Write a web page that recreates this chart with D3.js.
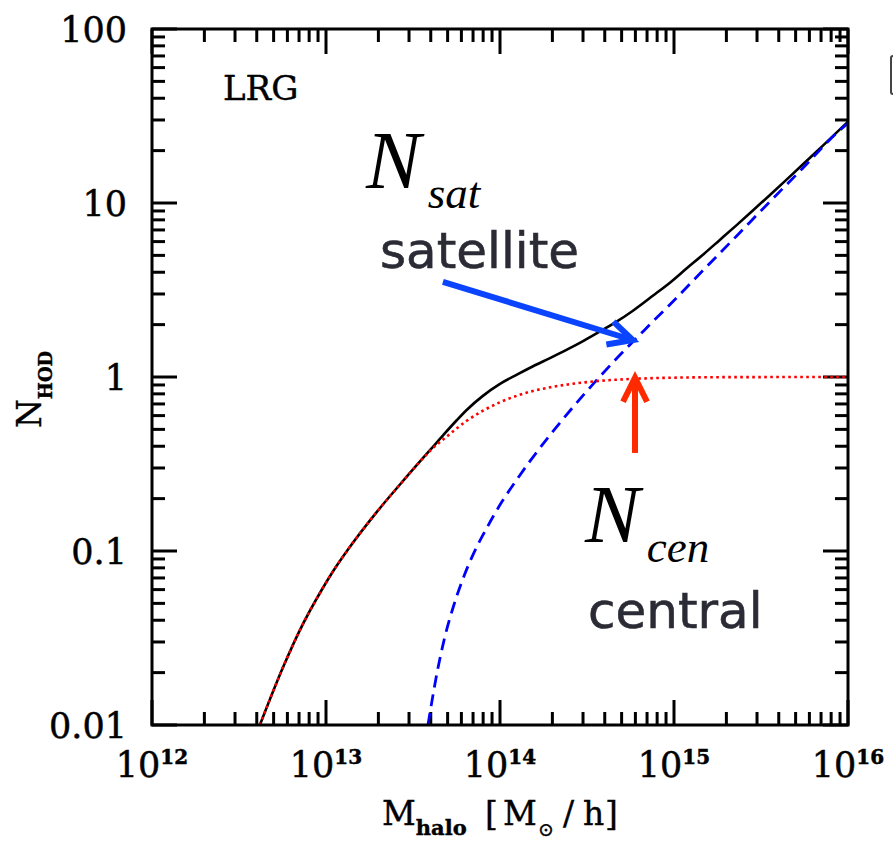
<!DOCTYPE html>
<html>
<head>
<meta charset="utf-8">
<script src="https://cdn.jsdelivr.net/npm/d3@7"></script>
<style>
  html, body { margin: 0; padding: 0; background: #fff; overflow: hidden; }
  svg { display: block; }
</style>
</head>
<body>
<svg id="chart" width="893" height="841"></svg>
<script>
// Halo occupation: total, central and satellite galaxies vs halo mass
const massTotal = [4.169e12, 5.623e12, 7.079e12, 9.333e12, 1.096e13, 1.380e13, 1.950e13, 2.692e13, 3.311e13,
  3.981e13, 4.677e13, 5.623e13, 6.457e13, 7.943e13, 1.0e14, 1.259e14, 1.549e14, 1.950e14, 2.455e14, 3.020e14,
  3.715e14, 4.677e14, 5.754e14, 7.586e14, 9.550e14, 1.175e15, 1.479e15, 1.820e15, 2.291e15, 2.818e15,
  3.548e15, 4.467e15, 5.495e15, 6.918e15, 8.710e15, 1.0e16];
const nTotal = [0.0100, 0.0211, 0.0351, 0.0585, 0.0762, 0.1064, 0.1667, 0.2443, 0.3105,
  0.382, 0.459, 0.5623, 0.6486, 0.7762, 0.912, 1.035, 1.153, 1.288, 1.445, 1.614,
  1.816, 2.080, 2.388, 2.938, 3.508, 4.188, 5.082, 6.095, 7.464, 8.995,
  11.09, 13.71, 16.63, 20.65, 25.70, 29.38];

const massCentral = [4.169e12, 5.623e12, 7.079e12, 9.333e12, 1.096e13, 1.380e13, 1.950e13, 2.692e13, 3.311e13,
  3.981e13, 5.012e13, 6.457e13, 7.943e13, 1.0e14, 1.259e14, 1.549e14, 1.950e14, 2.455e14, 3.020e14, 3.715e14,
  4.677e14, 5.754e14, 7.586e14, 1.0e15, 2.0e15, 1.0e16];
const nCentral = [0.0100, 0.0211, 0.0351, 0.0585, 0.0762, 0.1064, 0.1667, 0.2443, 0.3105,
  0.378, 0.460, 0.561, 0.638, 0.716, 0.782, 0.832, 0.873, 0.906, 0.930, 0.950,
  0.965, 0.975, 0.985, 0.991, 0.998, 1.0];

const massSatellite = [3.855e13, 4.365e13, 4.786e13, 5.370e13, 6.166e13, 6.918e13, 8.511e13, 1.023e14, 1.259e14,
  1.479e14, 1.950e14, 3.020e14, 4.677e14, 7.244e14, 9.550e14, 1.479e15, 2.291e15, 3.548e15, 5.495e15,
  8.710e15, 1.0e16];
const nSatellite = [0.0100, 0.0204, 0.0312, 0.0472, 0.0705, 0.0929, 0.139, 0.191, 0.260,
  0.326, 0.467, 0.789, 1.276, 1.995, 2.63, 4.13, 6.47, 10.16, 15.85,
  25.5, 28.8];

const xTicks = [1e12, 1e13, 1e14, 1e15, 1e16];
const xTickExponents = ["12", "13", "14", "15", "16"];
const yTicks = [0.01, 0.1, 1, 10, 100];
const yTickLabels = ["0.01", "0.1", "1", "10", "100"];

const svg = d3.select("#chart");
const plotLeft = 152, plotRight = 848, plotTop = 29, plotBottom = 725;
const majorLen = 25, minorLen = 13;

const x = d3.scaleLog().domain([1e12, 1e16]).range([plotLeft, plotRight]);
const y = d3.scaleLog().domain([0.01, 100]).range([plotBottom, plotTop]);

svg.append("rect").attr("width", 893).attr("height", 841).attr("fill", "#fff");

svg.append("defs").append("clipPath").attr("id", "plot-clip")
  .append("rect").attr("x", plotLeft).attr("y", plotTop)
  .attr("width", plotRight - plotLeft).attr("height", plotBottom - plotTop);

// minor tick positions (2..9 within each decade)
function minorTicks(decades) {
  const out = [];
  decades.forEach(d => { for (let k = 2; k <= 9; k++) out.push(k * d); });
  return out;
}
const xMinor = minorTicks([1e12, 1e13, 1e14, 1e15]);
const yMinor = minorTicks([0.01, 0.1, 1, 10]);

// inward ticks on all four sides
const ticks = svg.append("g").attr("stroke", "#000").attr("stroke-width", 3);
[[xTicks, majorLen], [xMinor, minorLen]].forEach(([vals, len]) => {
  ticks.selectAll(null).data(vals).join("line")
    .attr("x1", d => x(d)).attr("x2", d => x(d))
    .attr("y1", plotBottom).attr("y2", plotBottom - len);
  ticks.selectAll(null).data(vals).join("line")
    .attr("x1", d => x(d)).attr("x2", d => x(d))
    .attr("y1", plotTop).attr("y2", plotTop + len);
});
[[yTicks, majorLen], [yMinor, minorLen]].forEach(([vals, len]) => {
  ticks.selectAll(null).data(vals).join("line")
    .attr("y1", d => y(d)).attr("y2", d => y(d))
    .attr("x1", plotLeft).attr("x2", plotLeft + len);
  ticks.selectAll(null).data(vals).join("line")
    .attr("y1", d => y(d)).attr("y2", d => y(d))
    .attr("x1", plotRight).attr("x2", plotRight - len);
});

// curves
const line = d3.line().x(d => x(d[0])).y(d => y(d[1])).curve(d3.curveMonotoneX);
const plot = svg.append("g").attr("clip-path", "url(#plot-clip)");

plot.append("path").datum(d3.zip(massTotal, nTotal)).attr("d", line)
  .attr("fill", "none").attr("stroke", "#000").attr("stroke-width", 2.6);
plot.append("path").datum(d3.zip(massSatellite, nSatellite)).attr("d", line)
  .attr("fill", "none").attr("stroke", "#0000ff").attr("stroke-width", 2.8)
  .attr("stroke-dasharray", "12,7");
plot.append("path").datum(d3.zip(massCentral, nCentral)).attr("d", line)
  .attr("fill", "none").attr("stroke", "#ff0000").attr("stroke-width", 2.6)
  .attr("stroke-dasharray", "2.6,3.4");

// frame
svg.append("rect").attr("x", plotLeft).attr("y", plotTop)
  .attr("width", plotRight - plotLeft).attr("height", plotBottom - plotTop)
  .attr("fill", "none").attr("stroke", "#000").attr("stroke-width", 3);

// tick labels
const serif = "'DejaVu Serif', serif";
svg.append("g").attr("stroke", "#000").attr("stroke-width", 0.5)
  .selectAll("text").data(yTicks).join("text")
  .attr("x", 127).attr("y", d => y(d)).attr("dy", "0.36em")
  .attr("text-anchor", "end").attr("font-family", serif).attr("font-size", 35)
  .text((d, i) => yTickLabels[i]);

const xl = svg.append("g").attr("stroke", "#000").attr("stroke-width", 0.5)
  .selectAll("text").data(xTicks).join("text")
  .attr("x", d => x(d)).attr("y", 777)
  .attr("text-anchor", "middle").attr("font-family", serif).attr("font-size", 35);
xl.append("tspan").text("10");
xl.append("tspan").attr("dy", -13).attr("font-size", 20).attr("font-weight", "bold")
  .text((d, i) => xTickExponents[i]);

// axis titles
const xt = svg.append("text").attr("y", 825).attr("font-family", serif).attr("font-size", 33)
  .attr("stroke", "#000").attr("stroke-width", 0.4);
xt.append("tspan").attr("x", 382).text("M");
xt.append("tspan").attr("dy", 10).attr("font-size", 21).attr("font-weight", "bold").text("halo");
xt.append("tspan").attr("x", 485).attr("dy", -10).text("[");
xt.append("tspan").attr("x", 503).text("M");
xt.append("tspan").attr("x", 538).attr("dy", 11).attr("font-size", 19).text("⊙");
xt.append("tspan").attr("x", 563).attr("dy", -11).text("/");
xt.append("tspan").attr("x", 583).text("h");
xt.append("tspan").attr("x", 605).text("]");

const yt = svg.append("text").attr("transform", "translate(41,428) rotate(-90)")
  .attr("font-family", serif).attr("font-size", 33).attr("stroke", "#000").attr("stroke-width", 0.4);
yt.append("tspan").text("N");
yt.append("tspan").attr("dy", 11).attr("font-size", 18).attr("font-weight", "bold").text("HOD");

svg.append("text").attr("x", 223).attr("y", 100).attr("font-family", serif).attr("font-size", 34)
  .attr("stroke", "#000").attr("stroke-width", 0.4).text("LRG");

// annotations
const times = "'Liberation Serif', 'Times New Roman', serif";
const sans = "'DejaVu Sans', sans-serif";
function nLabel(px, py, sub) {
  const t = svg.append("text").attr("x", px).attr("y", py).attr("font-family", times).attr("font-style", "italic");
  t.append("tspan").attr("font-size", 82).text("N");
  t.append("tspan").attr("font-size", 45).attr("dx", 7).attr("dy", 20).text(sub);
}
nLabel(366, 188, "sat");
nLabel(585, 542, "cen");
svg.append("text").attr("x", 380).attr("y", 268).attr("font-family", sans).attr("font-size", 50)
  .attr("fill", "#2b2b35").attr("stroke", "#2b2b35").attr("stroke-width", 0.6).text("satellite");
svg.append("text").attr("x", 588).attr("y", 628).attr("font-family", sans).attr("font-size", 50)
  .attr("fill", "#2b2b35").attr("stroke", "#2b2b35").attr("stroke-width", 0.6).text("central");

function arrow(from, to, color) {
  const x0 = x(from[0]), y0 = y(from[1]), x1 = x(to[0]), y1 = y(to[1]);
  const len = Math.hypot(x1 - x0, y1 - y0), ux = (x1 - x0) / len, uy = (y1 - y0) / len;
  const hl = 24, hw = 12;
  const g = svg.append("g").attr("fill", "none").attr("stroke", color).attr("stroke-width", 6);
  g.append("line").attr("x1", x0).attr("y1", y0).attr("x2", x1 - ux * 2).attr("y2", y1 - uy * 2);
  g.append("path").attr("stroke-linejoin", "miter")
    .attr("d", `M${x1 - ux * hl - uy * hw},${y1 - uy * hl + ux * hw}L${x1},${y1}L${x1 - ux * hl + uy * hw},${y1 - uy * hl - ux * hw}`);
}
arrow([4.7e13, 3.52], [5.8e14, 1.63], "#0a44ff");
arrow([5.97e14, 0.366], [5.97e14, 0.99], "#ff2a00");

// edge of a neighbouring panel box
svg.append("rect").attr("x", 891).attr("y", 56).attr("width", 30).attr("height", 38).attr("rx", 2)
  .attr("fill", "none").attr("stroke", "#444").attr("stroke-width", 2);
</script>
</body>
</html>
